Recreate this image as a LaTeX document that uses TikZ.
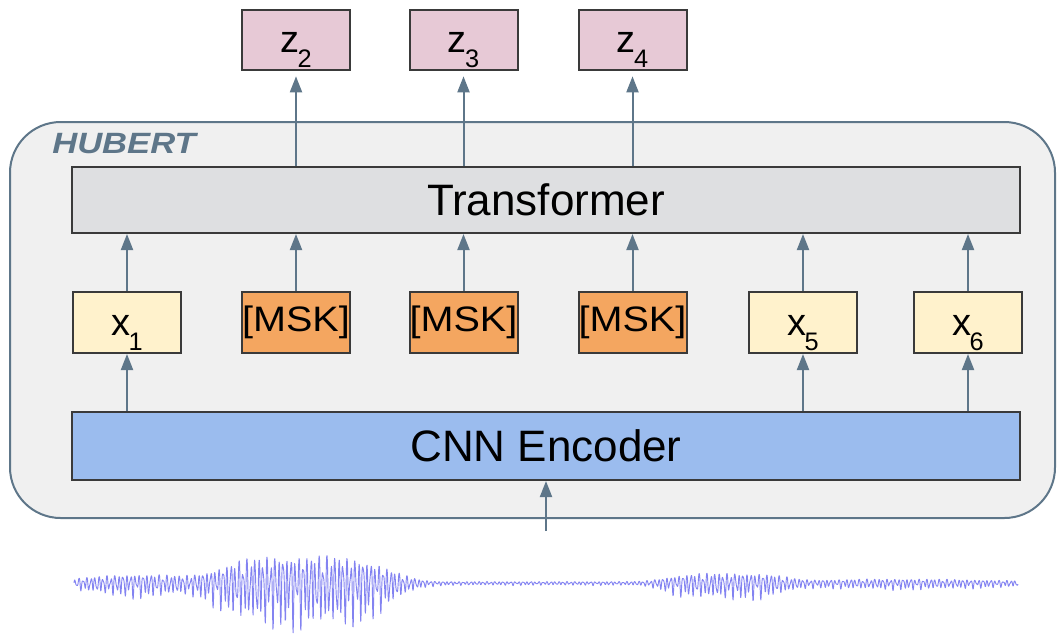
\documentclass[tikz,border=0pt]{standalone}
\usepackage{fontspec}
\setmainfont{Liberation Sans}
\usetikzlibrary{arrows.meta}
\definecolor{outerfill}{HTML}{F0F0F0}
\definecolor{slate}{HTML}{5E7689}
\definecolor{boxborder}{HTML}{3A3A3A}
\definecolor{trfill}{HTML}{DEDFE1}
\definecolor{xfill}{HTML}{FFF2CC}
\definecolor{mskfill}{HTML}{F4A660}
\definecolor{zfill}{HTML}{E7C9D6}
\definecolor{cnnfill}{HTML}{9BBCEE}
\definecolor{wavecol}{HTML}{6464EE}
\newcommand\subsc[1]{\hspace{-0.04em}\raisebox{-0.4em}{\fontsize{19pt}{19pt}\selectfont #1}}
\tikzset{
  outerbox/.style={draw=slate, fill=outerfill, line width=1.5pt, rounded corners=38pt,
    minimum width=783.75pt, minimum height=297pt, inner sep=0pt},
  tokbox/.style={draw=boxborder, line width=1.5pt, minimum width=81pt, inner sep=0pt},
  symtext/.style={font=\fontsize{28.5pt}{30pt}\selectfont, text height=29pt, text depth=10pt},
  msktext/.style={font=\fontsize{26.5pt}{28pt}\selectfont},
  wide/.style={draw=boxborder, line width=1.5pt, minimum width=711pt, inner sep=0pt,
    font=\fontsize{33pt}{36pt}\selectfont},
  conn/.style={draw=slate, line width=1.5pt, -{Triangle[length=12pt,width=9pt]}},
  wave/.style={draw=wavecol, line width=0.7pt, opacity=0.8, line join=round},
  declare function={
    env(\t)=2+11*exp(-(min(abs((\t-140)/70),2.9)^2))+38*exp(-(min(abs((\t-305)/92),1.7)^4))
      +12*exp(-(min(abs((\t-725)/65),1.7)^4))+4*exp(-(min(abs((\t-900)/120),2.9)^2));
    osc(\t)=0.6*sin(90*mod(\t,4))+0.25*sin(144*mod(\t,2.5))+0.15*sin(49.315*mod(\t,7.3));
  }
}
\begin{document}
\begin{tikzpicture}[x=0.75pt,y=-0.75pt]
\useasboundingbox (0,0) rectangle (1064,637);

% outer HUBERT container
\node[outerbox] (hubert) at (532.5,320) {};
\node[anchor=base west, text=slate, inner sep=0pt,
      font=\fontsize{22pt}{24pt}\selectfont\bfseries\itshape] (hlabel) at (52,153)
      {\scalebox{1.18}[1]{HUBERT}};

% Transformer and CNN
\node[wide, fill=trfill, minimum height=49.5pt] (tr) at (546,200) {Transformer};
\node[wide, fill=cnnfill, minimum height=51pt] (cnn) at (546,446) {CNN Encoder};

% tokens
\node[tokbox, fill=xfill, minimum height=45.75pt, symtext] (x1) at (127,322.5) {x\subsc{1}};
\node[tokbox, fill=mskfill, minimum height=45.75pt, msktext] (m2) at (296,322.5) {\scalebox{1.12}[1]{[MSK]}};
\node[tokbox, fill=mskfill, minimum height=45.75pt, msktext] (m3) at (463.5,322.5) {\scalebox{1.12}[1]{[MSK]}};
\node[tokbox, fill=mskfill, minimum height=45.75pt, msktext] (m4) at (632.5,322.5) {\scalebox{1.12}[1]{[MSK]}};
\node[tokbox, fill=xfill, minimum height=45.75pt, symtext] (x5) at (803,322.5) {x\subsc{5}};
\node[tokbox, fill=xfill, minimum height=45.75pt, symtext] (x6) at (968,322.5) {x\subsc{6}};

% outputs
\node[tokbox, fill=zfill, minimum height=45pt, symtext] (z2) at (296,40) {z\subsc{2}};
\node[tokbox, fill=zfill, minimum height=45pt, symtext] (z3) at (463.5,40) {z\subsc{3}};
\node[tokbox, fill=zfill, minimum height=45pt, symtext] (z4) at (632.5,40) {z\subsc{4}};

% connectors
\foreach \n in {z2,z3,z4}
  \draw[conn, shorten >=4pt] (tr.north -| \n) -- (\n.south);
\foreach \n in {x1,m2,m3,m4,x5,x6}
  \draw[conn] (\n.north) -- (tr.south -| \n);
\foreach \n in {x1,x5,x6}
  \draw[conn] (cnn.north -| \n) -- (\n.south);
\coordinate (in) at (546,531);
\draw[conn] (in) -- (cnn.south);

% waveform
\draw[wave] plot[domain=74:1018, samples=3000, variable=\t]
  (\t, {583 + env(\t)*osc(\t)*(1+0.3*osc(\t))});
\end{tikzpicture}
\end{document}
